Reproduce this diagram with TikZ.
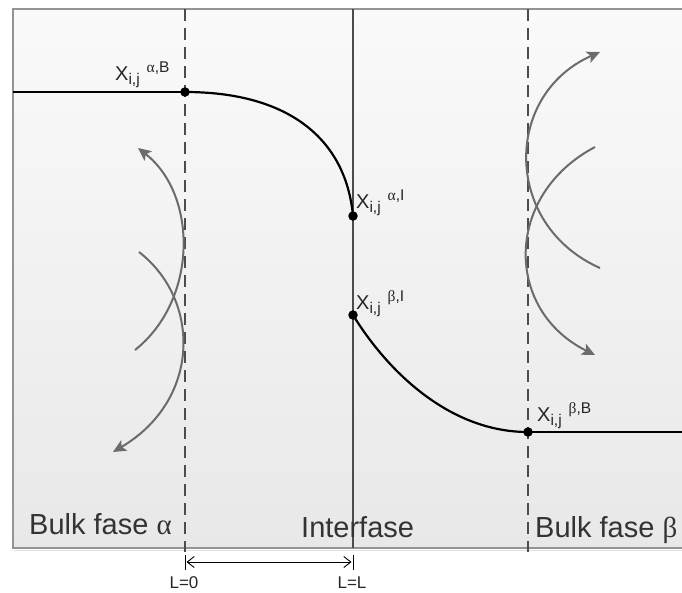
\documentclass[tikz,border=0pt]{standalone}
\usepackage{fontspec}
\setmainfont{Liberation Sans}
\newfontfamily\grk{Liberation Serif}
\usetikzlibrary{arrows.meta}
\newcommand\xijlab[1]{{\fontsize{20}{20}\selectfont X}{\fontsize{15.5}{15.5}\selectfont\raisebox{-4.5pt}{i,j}\hspace{7pt}\raisebox{7.5pt}{#1}}}
\begin{document}
\begin{tikzpicture}[x=1pt,y=-1pt,
  dashline/.style={draw=black!70, line width=1.3pt, dash pattern=on 12pt off 7pt},
  midline/.style={draw=black!70, line width=1.4pt},
  curveline/.style={draw=black, line width=2.2pt},
  dotnode/.style={circle, fill=black, inner sep=0pt, minimum size=9.5pt},
  flowarrow/.style={draw=black!58, line width=2pt, -{Stealth[length=13pt,width=12pt,inset=3pt]}},
  ptlabel/.style={anchor=base west, inner sep=0pt, text=black!85},
  regionlabel/.style={anchor=base west, inner sep=0pt, text=black!80, font=\fontsize{29}{29}\selectfont},
  smalllabel/.style={anchor=base, inner sep=0pt, font=\fontsize{17}{17}\selectfont, text=black!85},
  dimarrow/.style={draw=black, line width=0.9pt, {Straight Barb[length=7pt,width=11pt]}-{Straight Barb[length=7pt,width=11pt]}},
  tick/.style={draw=black, line width=1pt}
]
\useasboundingbox (0,0) rectangle (682,592);
% background panel
\shade[top color=white!98!black, bottom color=black!9] (13,9) rectangle (690,548);
\draw[black!12, line width=1.5pt] (14,550.5) -- (690,550.5);
\draw[black!42, line width=1.3pt] (690,9) -- (13,9) -- (13,548) -- (690,548);

% coordinates
\coordinate (pAB) at (185,92);
\coordinate (pAI) at (353,216);
\coordinate (pBI) at (353,315);
\coordinate (pBB) at (528,432);
\coordinate (lstart) at (13,92);
\coordinate (rend) at (682,432);
\coordinate (dA1) at (185,9);
\coordinate (dA2) at (185,552);
\coordinate (dB1) at (528,9);
\coordinate (dB2) at (528,552);
\coordinate (mI1) at (353,9);
\coordinate (mI2) at (353,548);

% vertical lines
\draw[dashline] (dA1) -- (dA2);
\draw[dashline] (dB1) -- (dB2);
\draw[midline] (mI1) -- (mI2);

% concentration profile
\draw[curveline] (lstart) -- (pAB);
\draw[curveline] (pAB) .. controls (290,92) and (346,140) .. (pAI);
\draw[curveline] (pBI) .. controls (388,372) and (450,432) .. (pBB);
\draw[curveline] (pBB) -- (rend);

\node[dotnode] (dotAB) at (pAB) {};
\node[dotnode] (dotAI) at (pAI) {};
\node[dotnode] (dotBI) at (pBI) {};
\node[dotnode] (dotBB) at (pBB) {};

% point labels
\node[ptlabel] (labAB) at (115,80) {\xijlab{{\grk α},B}};
\node[ptlabel] (labAI) at (356,208) {\xijlab{{\grk α},I}};
\node[ptlabel] (labBI) at (356,309) {\xijlab{{\grk β},I}};
\node[ptlabel] (labBB) at (537,421) {\xijlab{{\grk β},B}};

% left mixing arrows
\coordinate (la1s) at (135,350);
\coordinate (la1e) at (138,148);
\coordinate (la2s) at (139,252);
\coordinate (la2e) at (113,452);
\draw[flowarrow] (la1s) .. controls (198,300) and (198,195) .. (la1e);
\draw[flowarrow] (la2s) .. controls (201,300) and (201,400) .. (la2e);

% right mixing arrows
\coordinate (ra1s) at (600,268);
\coordinate (ra1e) at (600,52);
\coordinate (ra2s) at (595,147);
\coordinate (ra2e) at (595,355);
\draw[flowarrow] (ra1s) .. controls (503,225) and (503,95) .. (ra1e);
\draw[flowarrow] (ra2s) .. controls (504,195) and (504,310) .. (ra2e);

% region labels
\node[regionlabel] (bulkA) at (29,534) {Bulk fase {\grk α}};
\node[regionlabel] (inter) at (301,537) {Interfase};
\node[regionlabel] (bulkB) at (535,537) {Bulk fase {\grk β}};

% dimension
\coordinate (t0a) at (185,555);
\coordinate (t0b) at (185,570);
\coordinate (t1a) at (353,555);
\coordinate (t1b) at (353,570);
\coordinate (da) at (186.5,562);
\coordinate (db) at (351.5,562);
\draw[tick] (t0a) -- (t0b);
\draw[tick] (t1a) -- (t1b);
\draw[dimarrow] (da) -- (db);
\node[smalllabel] (L0) at (184,588) {L=0};
\node[smalllabel] (LL) at (352,588) {L=L};
\end{tikzpicture}
\end{document}
